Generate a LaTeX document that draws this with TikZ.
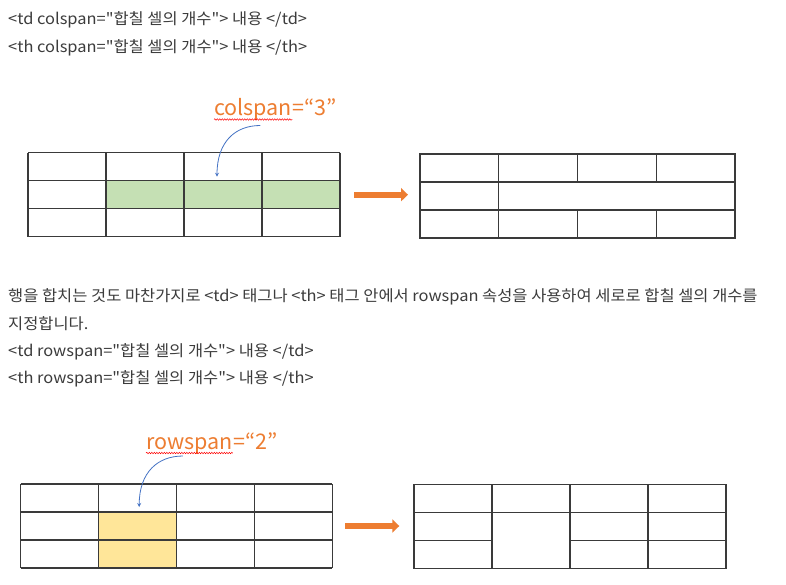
\documentclass[tikz,border=0pt]{standalone}
\usepackage{fontspec}
\setmainfont{Noto Sans CJK KR}[Ligatures=TeXOff]
\newfontfamily\bodyfont{Noto Sans CJK KR}[Ligatures=TeXOff, FakeStretch=1.06]
\usetikzlibrary{arrows.meta}
\usetikzlibrary{decorations,decorations.pathmorphing}
\usetikzlibrary{calc}
\definecolor{txtgray}{HTML}{3C3C3C}
\definecolor{lineblack}{HTML}{3A3A3A}
\definecolor{cellgreen}{HTML}{C5E0B4}
\definecolor{cellyellow}{HTML}{FFE699}
\definecolor{tagorange}{HTML}{ED7D31}
\definecolor{pointblue}{HTML}{4472C4}
\tikzstyle{bodytext}=[anchor=base west, inner sep=0pt, text=txtgray, font=\bodyfont\fontsize{15.5}{18}\selectfont]
\tikzstyle{tagtext}=[anchor=base west, inner sep=0pt, text=tagorange, font=\fontsize{21.5}{24}\selectfont]
\tikzstyle{wavy}=[draw=red, line width=0.5pt, decorate, decoration={snake, amplitude=0.7pt, segment length=2.5pt}]
\tikzstyle{pointer}=[draw=pointblue, line width=0.8pt, -{Stealth[length=4pt,width=4pt]}]
\tikzstyle{bigarrow}=[draw=tagorange, line width=6pt, -{Triangle[length=7pt,width=13pt]}]
\tikzstyle{gridline}=[draw=lineblack, line width=1.1pt]
\newcommand{\gridcoordinates}[4]{
\foreach \x in {0,...,4} {
	\foreach \y in {0,...,3} {
		\coordinate (#1\x\y) at (#2+\x*#4, #3+\y*28);
	}
}
}
\begin{document}
\begin{tikzpicture}[x=1pt,y=-1pt]
\useasboundingbox[fill=white] (0,0) rectangle (786,584);
\node[bodytext] (colline1) at (8,24) {<td colspan="합칠 셀의 개수"> 내용 </td>};
\node[bodytext] (colline2) at (8,52) {<th colspan="합칠 셀의 개수"> 내용 </th>};
\node[bodytext] (para1) at (8,301) {행을 합치는 것도 마찬가지로 <td> 태그나 <th> 태그 안에서 rowspan 속성을 사용하여 세로로 합칠 셀의 개수를};
\node[bodytext] (para2) at (8,329) {지정합니다.};
\node[bodytext] (rowline1) at (8,356) {<td rowspan="합칠 셀의 개수"> 내용 </td>};
\node[bodytext] (rowline2) at (8,383) {<th rowspan="합칠 셀의 개수"> 내용 </th>};
% colspan tables
\gridcoordinates{a}{28}{152.7}{78}
\gridcoordinates{b}{420}{154}{78.75}
\fill[cellgreen] (a11) rectangle (a42);
\foreach \i in {0,...,4} \draw[gridline] (a\i0) -- (a\i3);
\foreach \j in {0,...,3} \draw[gridline] (a0\j) -- (a4\j);
\draw[gridline] (b00) rectangle (b43);
\draw[gridline] (b01) -- (b41);
\draw[gridline] (b02) -- (b42);
\draw[gridline] (b10) -- (b13);
\draw[gridline] (b20) -- (b21);
\draw[gridline] (b22) -- (b23);
\draw[gridline] (b30) -- (b31);
\draw[gridline] (b32) -- (b33);
\draw[bigarrow] ($(a41)!.5!(a42)+(14,0)$) -- ($(a41)!.5!(a42)+(68,0)$);
\node[tagtext] (colword) at (214,115.5) {colspan};
\node[tagtext] (coleq) at (colword.base east) {=“3”};
\draw[wavy] ($(colword.base west)+(0,4)$) -- ($(colword.base east)+(0,4)$);
\coordinate (colhit) at ($(a21)+(33,-4)$);
\draw[pointer] ($(colword.base east)+(-32,10)$) .. controls +(-25,0) and +(0,-35) .. (colhit);
% rowspan tables
\gridcoordinates{c}{20.7}{484}{77.9}
\gridcoordinates{d}{414}{484.3}{78}
\fill[cellyellow] (c11) rectangle (c23);
\foreach \i in {0,...,4} \draw[gridline] (c\i0) -- (c\i3);
\foreach \j in {0,...,3} \draw[gridline] (c0\j) -- (c4\j);
\draw[gridline] (d00) rectangle (d43);
\draw[gridline] (d01) -- (d41);
\draw[gridline] (d02) -- (d12);
\draw[gridline] (d22) -- (d42);
\draw[gridline] (d10) -- (d13);
\draw[gridline] (d20) -- (d23);
\draw[gridline] (d30) -- (d33);
\draw[bigarrow] ($(c41)!.5!(c42)+(12.7,0)$) -- ($(c41)!.5!(c42)+(67,0)$);
\node[tagtext] (rowword) at (146,449) {rowspan};
\node[tagtext] (roweq) at (rowword.base east) {=“2”};
\draw[wavy] ($(rowword.base west)+(0,4)$) -- ($(rowword.base east)+(0,4)$);
\coordinate (rowhit) at ($(c11)+(40.6,-5)$);
\draw[pointer] ($(rowword.base east)+(-50,7)$) .. controls +(-25,0) and +(0,-35) .. (rowhit);
\end{tikzpicture}
\end{document}
